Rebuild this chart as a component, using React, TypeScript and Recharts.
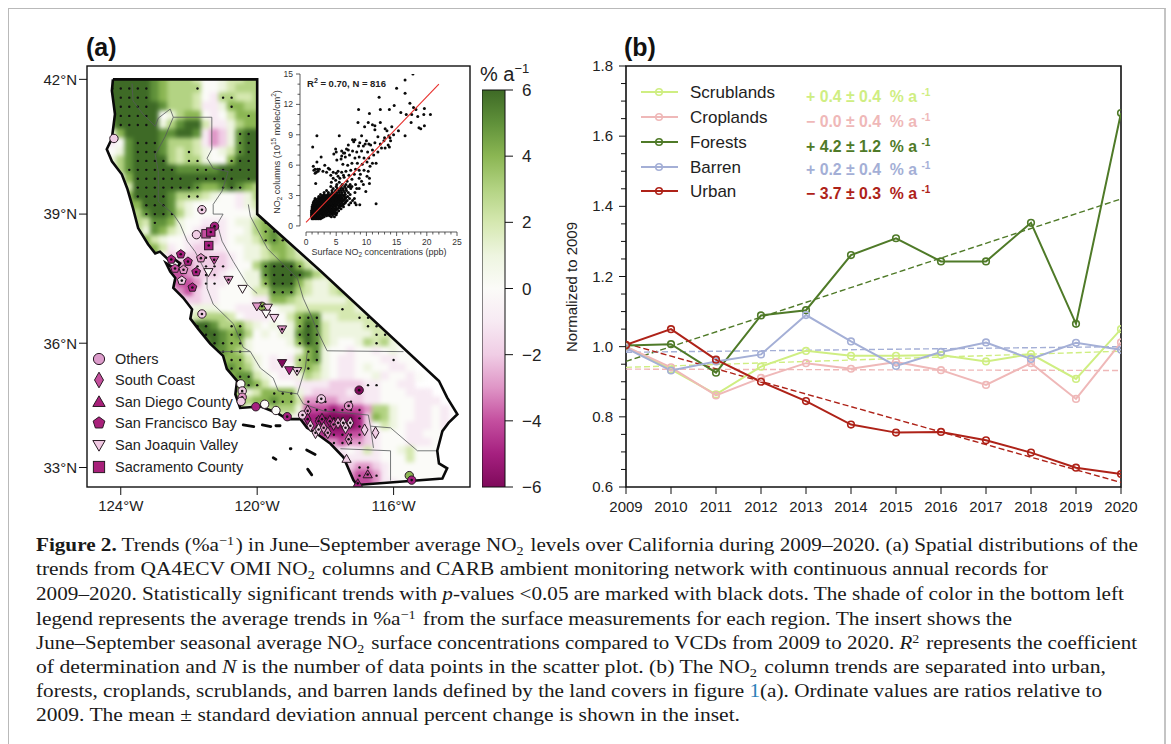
import * as React from 'react';
import {
  ComposedChart, LineChart, Line, Scatter, XAxis, YAxis, ReferenceArea, ReferenceLine
} from 'recharts';

const SANS = '"Liberation Sans", Arial, sans-serif';
const SERIF = '"Liberation Serif", serif';

// panel (b)
const years = [2009, 2010, 2011, 2012, 2013, 2014, 2015, 2016, 2017, 2018, 2019, 2020];
const scrublands = [1.0, 0.935, 0.864, 0.943, 0.988, 0.974, 0.974, 0.976, 0.958, 0.979, 0.908, 1.05];
const croplands = [1.0, 0.941, 0.861, 0.911, 0.953, 0.937, 0.956, 0.933, 0.891, 0.953, 0.851, 1.012];
const forests = [1.003, 1.007, 0.926, 1.089, 1.104, 1.261, 1.309, 1.243, 1.243, 1.353, 1.065, 1.666];
const barren = [0.996, 0.932, 0.958, 0.978, 1.09, 1.015, 0.945, 0.985, 1.012, 0.965, 1.011, 0.991];
const urban = [1.005, 1.05, 0.963, 0.9, 0.845, 0.778, 0.755, 0.757, 0.733, 0.698, 0.655, 0.637];
const scrublandsTrend = [0.941, 0.987];
const croplandsTrend = [0.936, 0.932];
const forestsTrend = [0.958, 1.421];
const barrenTrend = [0.984, 1.0];
const urbanTrend = [1.009, 0.613];
const ratioTicks = [0.6, 0.65, 0.7, 0.75, 0.8, 0.85, 0.9, 0.95, 1.0, 1.05, 1.1, 1.15, 1.2, 1.25, 1.3, 1.35, 1.4, 1.45, 1.5, 1.55, 1.6, 1.65, 1.7, 1.75, 1.8];
const landNames = ['Scrublands', 'Croplands', 'Forests', 'Barren', 'Urban'];
const landKeys = ['scrublands', 'croplands', 'forests', 'barren', 'urban'];
const landColors = ['#cfee82', '#efb8b8', '#4f7a28', '#a4afd6', '#ae2218'];
const landSigns = ['+', '\u2212', '+', '+', '\u2212'];
const landRates = ['0.4', '0.0', '4.2', '0.2', '3.7'];
const landErrors = ['0.4', '0.4', '1.2', '0.4', '0.3'];

const table = years.map((year, i) => {
  const ends = (t: number[]) => (i === 0 ? t[0] : i === years.length - 1 ? t[1] : null);
  return {
    year,
    scrublands: scrublands[i], croplands: croplands[i], forests: forests[i], barren: barren[i], urban: urban[i],
    scrublandsTrend: ends(scrublandsTrend), croplandsTrend: ends(croplandsTrend), forestsTrend: ends(forestsTrend),
    barrenTrend: ends(barrenTrend), urbanTrend: ends(urbanTrend),
  };
});

// panel (a): Mercator ordinate
const merc = (lat: number) => Math.log(Math.tan(Math.PI / 4 + (lat * Math.PI) / 360)) * 180 / Math.PI;

const lonTicks = [-124, -120, -116];
const lonLabels = ['124°W', '120°W', '116°W'];
const latTicks = [33, 36, 39, 42];
const latLabels = ['33°N', '36°N', '39°N', '42°N'];
const mapLon = [-124.99, -113.76];
const mapLat = [32.52, 42.29];

// NO2 trend levels a..m = -6..+6 %/a, one row per 0.2 deg of latitude from 42N, one char per 0.25 deg from 124.5W.
// Upper case = significant (black dot), '.' = outside the state
const heatRows = [
  '.mmmm mlkjj jiggh iijj',
  '.MMMM Mlkjj jJggh ijjj',
  '.MMMM Mlkjj jigfJ Jiij',
  '.MMMM Mmljj jiffh Kkjj',
  'kMMMM Mmghj kkgfg ikKkj',
  'klMMM Mmhjl mmiff hjkk',
  'hhkmm mmllm mlfde hLMM',
  'gfglM MMljj jifde hLMM',
  'gghlM MMlji Jihgh iLMM',
  'ghjlM MMMji JJhgg KMMM',
  'ggjLM MMMMl lLLlM MMMM',
  'gghkM MMMMM mMMMM MmMM',
  'ggjiM MMMMM MLkkL MLkj',
  'gghkM MMMlj JJihg gfhj',
  'gggkk MMMli hgggg gfhi',
  'gggjj LMMLj hgggg ggghj',
  'gggjj iLlkh ggfff ghhjK',
  'gggjj hlkih gfeef gghjK L',
  'gggij kihgg ffeef ghhiK LK',
  'gggij kkifg feeff gghhi kkj',
  'gggij kkgef eeEEe fghhi jkjih',
  'gggij kkfdd dEEEE fggjL MMMKi',
  'gggij kkecc dEEEf gghhL MMMMl ji',
  'gggij kkedc cdFFf gghhK MMMki hhij',
  'gggij kkked ceffg gggii LLLji hhijj',
  'gggij kkkkf eeffg gggff kkjih hhhhi',
  'gggij kkkki ghhhg gffff ghhii iiiIi h',
  'gggij kkkki hijjj igfff ggiKL Lhhii IIi',
  'gggij kkkkk jMMlj JKihg hghKM Lihhh hIIi',
  'gggij kkkkk jlMMl KLjgh ghhLM Lihhh hhIIi',
  'gggij kkkkk jjlML KKhgg gghKM Lihgg hjIjh g',
  'gggij kkkkk jjjlL KJhgg ggghK Lhggf ggfgh gg',
  'gggij kkkkk jjjjk KKihg fgfJK Lhgff gggfF gg',
  'gggij kkkkk jjjjk LKjhg ffgjK jhgff ghggf fg',
  'gggij kkkkk jjjjk KLLih gffhj ihgff gghfg gfg',
  'gggij kkkkk jjjjk KKLKi gggff ffeee eFFgg ff',
  'gggij kkkkk jjjjk Kjhik KKKhf eeeef effgg gfff',
  'gggij kkkkk jjjjk kkjkk LKKiD DDdeE effgg ggfff',
  'gggij kkkkk jjjjk kkghi jjjhC CCBCC Cdjjh ggffg f',
  'gggij kkkkk jjjjk kkggg ghhfB BAAAA Bekjh ggffg f',
  'gggij kkkkk jjjjk kkggg ggggB BBAAA Begih gfffg f',
  'gggij kkkkk jjjjk kkggg ggggg CBBBC Cefgg gffgg g',
  'gggij kkkkk jjjjk kkggg ggggg fDDCD Defgg gfffg g',
  'gggij kkkkk jjjjk kkggg ggggg ggefg fifgg higgg g',
  'gggij kkkkk jjjjk kkggg ggggg gggef fffgg gigg gg',
  'gggij kkkkk jjjjk kkggg ggggg gggde DDefg ggggg g',
  'gggij kkkkk jjjjk kkggg ggggg ggggd CCDfg ggggg gg',
  'gggij kkkkk jjjjk kkggg ggggg ggggc ccdff ggggg gg',
];
const levelColors = ['#7f0a5b', '#a5207f', '#c44f9f', '#df95c6', '#f0cde5', '#f7eaf3', '#fbfbf8', '#eef5e0', '#d5e8b0', '#b3d383', '#8bb653', '#60913a', '#3e6a26'];

const stateOutline = [
  [-124.23, 42], [-120, 42], [-120, 39], [-118.15, 37.7], [-114.67, 35.1], [-114.43, 34.7], [-114.13, 34.3], [-114.39, 34.09],
  [-114.57, 33.89], [-114.72, 33.41], [-114.67, 33.1], [-114.43, 32.98], [-114.57, 32.73], [-117.07, 32.57], [-117.18, 32.69],
  [-117.47, 33.25], [-117.85, 33.58], [-118.24, 33.82], [-118.54, 33.97], [-118.73, 34.18], [-119.12, 34.18], [-119.42, 34.33],
  [-119.91, 34.49], [-120.5, 34.45], [-120.64, 34.78], [-120.59, 35.1], [-120.89, 35.39], [-121, 35.7], [-121.38, 35.99],
  [-121.73, 36.34], [-121.96, 36.58], [-121.91, 36.8], [-122.17, 37.07], [-122.46, 37.3], [-122.4, 37.53], [-122.55, 37.68],
  [-122.67, 37.87], [-122.38, 37.73], [-122.26, 37.87], [-122.49, 38], [-122.61, 37.96], [-122.85, 38.14], [-122.99, 38.1],
  [-123.2, 38.31], [-123.49, 38.68], [-123.64, 39.13], [-123.81, 39.58], [-123.97, 39.9], [-124.26, 40.19], [-124.41, 40.46],
  [-124.26, 40.7], [-124.17, 41.24], [-124.26, 41.75], [-124.23, 42],
];
const basinLines = [
  [[-123.67, 41.91], [-123.64, 41.53], [-123.35, 41.24], [-122.99, 40.97], [-122.9, 41.15], [-122.55, 41.35], [-122.46, 41.17], [-122.7, 40.74], [-122.99, 40.34], [-122.9, 39.96], [-122.9, 39.29], [-122.46, 39], [-122.26, 38.77], [-122.05, 38.38], [-121.82, 38.14], [-121.47, 37.61], [-121.47, 37.29], [-121.29, 36.92], [-120.7, 36.46], [-120.41, 35.9], [-120.2, 35.8], [-119.91, 35.41], [-119.53, 35.17], [-119.38, 34.86], [-118.82, 34.79], [-118.65, 34.55], [-118.06, 34.38], [-116.74, 34.28], [-116.68, 34.01], [-116.09, 33.97], [-115.3, 33.41], [-114.71, 33.41]],
  [[-122.46, 41.17], [-121.33, 41.17], [-121.33, 40.46], [-121.47, 40.26], [-121.29, 40.03], [-120.85, 39.96], [-121.03, 39.52], [-121.29, 39.22], [-121.29, 39], [-121, 39], [-121.17, 38.77], [-121.03, 38.38], [-120.7, 37.91], [-120.29, 37.38], [-120, 37.17]],
  [[-120.26, 39.22], [-120.2, 38.95], [-119.7, 38.21], [-119.32, 37.91], [-118.82, 37.52], [-118.65, 37.06], [-118.44, 36.69], [-118.24, 36.3], [-117.95, 35.82], [-115.71, 35.8]],
  [[-121.17, 35.8], [-120.2, 35.8]],
  [[-118.53, 35.78], [-118.59, 35.41], [-118.82, 34.79]],
  [[-117.56, 33.46], [-116.09, 33.41], [-116.09, 32.68]],
  [[-116.68, 34.01], [-116.59, 33.48]],
];
const islands = [
  [[-120.41, 34.04], [-120.1, 34.0]],
  [[-119.85, 34.04], [-119.6, 34.0]],
  [[-119.45, 34.02], [-119.33, 34.02]],
  [[-119.53, 33.24], [-119.45, 33.2]],
  [[-119.03, 33.46], [-119.01, 33.46]],
  [[-118.55, 33.43], [-118.3, 33.32]],
  [[-118.52, 32.96], [-118.4, 32.82]],
];

// surface stations: lon, lat, trend %/a, significant (1)
const otherSites = [
  [-124.2, 40.7, -2, 0], [-121.62, 39.1, -2.5, 1], [-121.78, 38.53, -2.5, 0], [-121.25, 38.72, -5, 1], [-121.62, 36.69, -2, 1],
  [-120.48, 35.03, 0, 0], [-120.44, 34.86, -2, 1], [-120.44, 34.71, -3, 1], [-120.47, 34.61, -2, 0], [-120.04, 34.48, -5.5, 0],
  [-119.78, 34.54, 0, 0], [-119.45, 34.39, 0, 0], [-119.12, 34.24, -5, 1], [-118.67, 34.28, -2.5, 1], [-118.12, 34.67, -2.5, 1],
  [-117.32, 34.5, -3, 1], [-117.01, 34.88, -6, 1], [-115.54, 32.8, 4, 0], [-115.47, 32.69, -5, 1], [-119.86, 36.87, 4, 1],
];
const southCoastSites = [
  [-118.52, 34.38, -3, 1], [-118.52, 34.18, -5, 1], [-118.44, 34.02, -2, 1], [-118.29, 33.85, -2, 1], [-118.2, 34.13, -5, 1],
  [-118.1, 34.18, -5, 1], [-118.2, 33.93, -2, 1], [-118.05, 33.97, -3, 1], [-117.93, 33.85, -3, 1], [-117.87, 34.13, -5, 1],
  [-117.76, 34.05, -4, 1], [-117.63, 34.09, -3, 1], [-117.48, 34.09, -2.5, 1], [-117.41, 33.97, -2, 1], [-117.27, 34.09, -2.5, 1],
  [-117.32, 33.69, -3, 1], [-116.85, 33.92, -2, 0], [-116.53, 33.85, -2, 0],
];
const sanDiegoSites = [[-116.76, 32.83, -4.5, 1], [-117.05, 32.61, -5, 1], [-117.38, 33.21, -2, 0]];
const bayAreaSites = [
  [-122.52, 37.96, -5, 1], [-122.24, 38.08, -5, 1], [-122.03, 37.91, -5, 1], [-121.65, 37.99, -3, 1], [-122.41, 37.75, -4, 1],
  [-122.16, 37.72, -3, 1], [-121.79, 37.67, -5, 1], [-122.21, 37.47, -2, 1], [-121.9, 37.31, -5, 1],
];
const joaquinSites = [
  [-121.26, 37.95, -4.5, 1], [-121.43, 37.67, 0, 0], [-120.84, 37.49, -3, 1], [-120.43, 37.28, 0, 0], [-120.01, 36.87, -3, 0],
  [-119.69, 36.84, -2, 0], [-119.74, 36.7, 0, 0], [-119.5, 36.6, -2, 0], [-119.27, 36.33, -3, 1], [-119.27, 35.53, -6, 0],
  [-119.06, 35.36, -5, 0], [-118.83, 35.34, -2, 1],
];
const sacramentoSites = [[-121.5, 38.55, -4.5, 0], [-121.36, 38.59, -5, 1], [-121.42, 38.28, -5.5, 1]];
const regionNames = ['Others', 'South Coast', 'San Diego County', 'San Francisco Bay', 'San Joaquin Valley', 'Sacramento County'];
const regionShapes = ['circle', 'diamond', 'triangle', 'pentagon', 'inverted', 'square'];
const regionFills = ['#dc9ccb', '#c44f9c', '#a8207a', '#a8207a', '#f0c8e2', '#a8207a'];
const regionSites = [otherSites, southCoastSites, sanDiegoSites, bayAreaSites, joaquinSites, sacramentoSites];

const trendLevels = [6, 4, 2, 0, -2, -4, -6];
const trendRange = [-6, 6];

// inset scatter: surface NO2 (ppb), column NO2 (1e15 molec/cm2)
const sparsePairs = [
  [17.7, 15], [16.4, 14.4], [15, 13.6], [16.4, 13.1], [12.1, 12.7], [17.2, 12.1], [14.6, 11.9], [8.7, 11.5], [12.3, 11.5], [10.5, 11.1],
  [13.8, 11.5], [15.7, 11.2], [16.6, 11], [17.8, 11.7], [18.2, 11.5], [19.6, 11.6], [19.5, 11], [20.6, 11], [17.5, 11], [18.5, 10.8],
  [17.4, 10.2], [18.7, 9.7], [19, 9.6], [19.6, 9.9], [8.6, 10.2], [10.3, 10.2], [9.7, 9.8], [11, 10], [11.4, 9.9], [12.3, 10.2],
  [11.4, 9.5], [13.1, 9.6], [13.4, 9.4], [14.2, 9.8], [15.3, 9.4], [16.4, 8.9], [14.5, 9], [13.9, 8.7], [5.5, 8.9], [1.8, 8.9],
  [1.1, 7.8], [7.7, 8.5], [8.1, 8.5], [7.9, 8.3], [9.2, 8.9], [10, 8.4], [10.4, 8.1], [8.7, 7.9], [9.5, 7.9], [7, 8],
  [6.7, 7.6], [4.9, 7.6], [4.6, 7.1], [6.2, 7.2], [5.9, 6.9], [2.5, 6.8], [1.8, 6.3], [1.2, 5.9], [3.1, 6], [1.5, 5.6],
  [1.3, 5.5], [1.9, 5.6], [2, 5.4], [1.7, 5.3], [1.5, 5.2], [1.6, 4.2], [3.4, 5.3], [3.9, 5.6], [3.7, 5.7], [2.2, 5.6],
  [2.8, 5.4], [4.1, 5], [4.5, 5.3], [5, 5.2], [5.3, 5.4], [4.5, 4.7], [4.9, 4.5], [5.6, 4.7], [5.3, 4.9], [6.2, 5],
  [4.2, 4.3], [5.1, 4.1], [5.5, 4.3], [6.8, 4.4], [7.6, 4.6], [8.8, 4.7], [9.2, 4.4], [6.3, 4.8], [7.1, 5], [8, 5.1],
  [9, 5.1], [10.1, 4.9], [10.5, 4.7], [5.9, 5.3], [6.6, 5.4], [7.4, 5.5], [8.2, 5.6], [8.8, 5.5], [9.6, 5.5], [10.3, 5.4],
  [6.1, 6.1], [6.9, 6], [7.6, 6.2], [8.5, 6.2], [9.3, 6.1], [10.1, 6.3], [11, 6.2], [11.6, 6.2], [5.1, 6.5], [5.8, 6.6],
  [6.5, 6.8], [7.2, 7], [8.1, 6.7], [8.8, 6.8], [9.6, 6.7], [10.4, 6.7], [11.2, 7], [5, 7.3], [5.9, 7.4], [6.4, 7.2],
  [7, 7.5], [7.7, 7.4], [8.4, 7.3], [9.2, 7.4], [10.2, 7.3], [11, 7.5], [11.9, 7.3], [12.5, 7.7], [13.1, 7.7], [13.8, 7.8],
  [12.3, 8.1], [12.9, 8.4], [13.6, 8], [14, 8.4], [8.9, 8.2], [9.8, 8.1], [10.7, 8], [11.4, 8.2], [11.9, 8.8], [13, 8.7],
  [13.7, 8.9], [10.6, 5.9], [9.9, 3.4], [10.5, 4.2], [8.9, 2.1], [11.6, 2.2], [7.2, 3.9], [8.8, 3.7], [9.5, 4.1],
];
// dense cluster, one row per column value: [y, x, x, x ...]
const clusterRows = [
  [0.7, 1.0, 1.2, 1.5, 1.8, 2.1, 2.4],
  [0.8, 1.1, 1.3, 1.6, 1.9, 2.3, 2.7],
  [0.9, 0.9, 1.1, 1.4, 1.7, 2.0, 2.4, 3.0, 4.2, 4.7],
  [1.0, 1.0, 1.3, 1.6, 1.9, 2.2, 2.8, 3.4, 3.9],
  [1.1, 0.9, 1.2, 1.5, 1.8, 2.1, 2.6, 3.2, 3.7, 4.4, 5.0],
  [1.2, 1.0, 1.3, 1.6, 1.9, 2.4, 2.9, 3.4, 3.9, 4.2, 4.8],
  [1.3, 0.9, 1.1, 1.4, 1.7, 2.0, 2.3, 2.7, 3.1, 3.5, 4.0, 4.5, 5.1],
  [1.4, 1.0, 1.3, 1.6, 1.9, 2.2, 2.5, 2.9, 3.3, 3.8, 4.3, 4.8],
  [1.5, 0.9, 1.2, 1.5, 1.8, 2.1, 2.5, 2.9, 3.3, 3.7, 4.1, 4.6, 5.4],
  [1.6, 1.1, 1.4, 1.7, 2.0, 2.3, 2.7, 3.1, 3.5, 3.9, 4.4, 5.0],
  [1.7, 1.0, 1.3, 1.6, 1.9, 2.2, 2.6, 3.0, 3.4, 3.8, 4.2, 4.7, 5.2, 5.8],
  [1.8, 1.1, 1.4, 1.7, 2.0, 2.4, 2.8, 3.2, 3.6, 4.0, 4.5, 5.0, 5.5],
  [1.9, 1.0, 1.2, 1.5, 1.8, 2.1, 2.4, 2.8, 3.2, 3.6, 4.0, 4.4, 4.9, 5.5, 6.2],
  [2.0, 1.2, 1.6, 1.9, 2.2, 2.6, 3.0, 3.4, 3.8, 4.2, 4.6, 5.0, 5.4, 5.8],
  [2.1, 1.1, 1.4, 1.7, 2.0, 2.3, 2.7, 3.1, 3.5, 3.9, 4.3, 4.7, 5.1, 5.6, 6.1, 7.1, 8.3],
  [2.2, 1.3, 1.6, 1.9, 2.4, 2.8, 3.2, 3.6, 4.0, 4.4, 4.8, 5.2, 5.7, 6.3],
  [2.3, 1.2, 1.5, 1.8, 2.2, 2.6, 3.0, 3.4, 3.8, 4.2, 4.6, 5.0, 5.4, 5.9, 6.5, 7.4, 8.1],
  [2.4, 1.3, 1.9, 2.3, 2.7, 3.1, 3.5, 3.9, 4.3, 4.7, 5.1, 5.5, 6.0, 6.6],
  [2.5, 1.4, 1.7, 2.1, 2.5, 2.9, 3.3, 3.7, 4.1, 4.5, 4.9, 5.3, 5.7, 6.2, 6.8, 7.7],
  [2.6, 1.6, 2.2, 2.6, 3.0, 3.4, 3.8, 4.2, 4.6, 5.0, 5.4, 5.8, 6.3],
  [2.7, 1.5, 2.0, 2.4, 2.8, 3.2, 3.6, 4.0, 4.4, 4.8, 5.2, 5.6, 6.0, 6.5, 7.2, 8.0],
  [2.8, 2.3, 2.7, 3.1, 3.5, 3.9, 4.3, 4.7, 5.1, 5.5, 5.9, 6.6],
  [2.9, 2.1, 2.6, 3.0, 3.4, 3.8, 4.2, 4.6, 5.0, 5.4, 5.8, 6.3, 6.9],
  [3.0, 2.8, 3.3, 3.7, 4.1, 4.5, 4.9, 5.3, 5.7, 6.2],
  [3.1, 2.4, 3.0, 3.6, 4.0, 4.4, 4.8, 5.2, 5.6, 6.0, 6.5, 7.3],
  [3.3, 3.0, 3.7, 4.3, 4.7, 5.1, 5.5, 5.9, 6.4, 7.0, 8.1],
  [3.5, 3.4, 4.3, 4.9, 5.4, 5.8, 6.2, 6.7],
  [3.7, 4.5, 5.2, 5.7, 6.1, 6.6, 7.4, 8.4],
  [3.9, 4.1, 5.0, 5.8, 6.4, 7.0, 7.6],
  [4.1, 6.0, 6.6, 7.3, 8.2],
];
const fitLine = [[0, 0.35], [22, 14]];
const surfaceTicks = [0, 1, 2, 3, 4, 5, 6, 7, 8, 9, 10, 11, 12, 13, 14, 15, 16, 17, 18, 19, 20, 21, 22, 23, 24, 25];
const columnTicks = [0, 1, 2, 3, 4, 5, 6, 7, 8, 9, 10, 11, 12, 13, 14, 15];

// keeps the dots of a cell on land
function insideState(lon: number, lat: number) {
  let inside = false;
  for (let i = 0, j = stateOutline.length - 1; i < stateOutline.length; j = i++) {
    const [xi, yi] = stateOutline[i];
    const [xj, yj] = stateOutline[j];
    if ((yi > lat) !== (yj > lat) && lon < ((xj - xi) * (lat - yi)) / (yj - yi) + xi) inside = !inside;
  }
  return inside;
}

const cells = heatRows.flatMap((row, i) =>
  [...row.replace(/ /g, '')].flatMap((c, j) =>
    c === '.' ? [] : [{
      lon: -124.5 + 0.25 * j,
      lat: 42 - 0.2 * i,
      my: merc(42 - 0.2 * i),
      level: c.toLowerCase().charCodeAt(0) - 97,
      sig: c === c.toUpperCase(),
    }]));
const sigCells = cells.filter((c) => c.sig && insideState(c.lon, c.lat));
const toLonLat = (pts: number[][]) => pts.map((p) => ({ lon: p[0], my: merc(p[1]) }));
const scatterPoints = [
  ...sparsePairs.map((p) => ({ s: p[0], c: p[1] })),
  ...clusterRows.flatMap((r) => r.slice(1).map((x) => ({ s: x, c: r[0] }))),
];

const trendColor = (t: number) => levelColors[Math.max(0, Math.min(12, Math.round(t + 6)))];

function markerPath(kind: string, cx: number, cy: number, r: number, fill: string, dot: boolean) {
  const stroke = '#2a1a24';
  let body: any;
  if (kind === 'circle') body = <circle cx={cx} cy={cy} r={r} fill={fill} stroke={stroke} />;
  if (kind === 'square') body = <rect x={cx - r} y={cy - r} width={2 * r} height={2 * r} fill={fill} stroke={stroke} />;
  if (kind === 'diamond') body = <polygon points={`${cx},${cy - r * 1.4} ${cx + r * 0.8},${cy} ${cx},${cy + r * 1.4} ${cx - r * 0.8},${cy}`} fill={fill} stroke={stroke} />;
  if (kind === 'triangle') body = <polygon points={`${cx},${cy - r * 1.1} ${cx + r * 1.1},${cy + r * 0.8} ${cx - r * 1.1},${cy + r * 0.8}`} fill={fill} stroke={stroke} />;
  if (kind === 'inverted') body = <polygon points={`${cx},${cy + r * 1.1} ${cx + r * 1.1},${cy - r * 0.8} ${cx - r * 1.1},${cy - r * 0.8}`} fill={fill} stroke={stroke} />;
  if (kind === 'pentagon') {
    const pts = [0, 1, 2, 3, 4].map((k) => {
      const a = -Math.PI / 2 + (k * 2 * Math.PI) / 5;
      return `${cx + r * 1.1 * Math.cos(a)},${cy + r * 1.1 * Math.sin(a)}`;
    });
    body = <polygon points={pts.join(' ')} fill={fill} stroke={stroke} />;
  }
  return (
    <g>
      {body}
      {dot && <circle cx={cx} cy={cy} r={1.3} fill="#111" />}
    </g>
  );
}

function MapFrame(props: any) {
  const { x, y, width, height } = props;
  const px = (lon: number) => x + ((lon - mapLon[0]) / (mapLon[1] - mapLon[0])) * width;
  const py = (lat: number) => y + height - ((merc(lat) - merc(mapLat[0])) / (merc(mapLat[1]) - merc(mapLat[0]))) * height;
  const d = stateOutline.map((p) => `${px(p[0])},${py(p[1])}`).join(' ');
  return (
    <g>
      <clipPath id="caClip"><polygon points={d} /></clipPath>
      <rect x={x} y={y} width={width} height={height} fill="none" stroke="#111" strokeWidth={1.4} />
    </g>
  );
}

function RatioTick(props: any) {
  const { x, y, payload } = props;
  const major = Math.abs(payload.value * 5 - Math.round(payload.value * 5)) < 1e-6;
  return (
    <g>
      <line x1={x - (major ? 7 : 5)} x2={x} y1={y} y2={y} stroke="#111" />
      {major && <text x={x - 13} y={y + 5} textAnchor="end" fontSize={15} fill="#222">{payload.value.toFixed(1)}</text>}
    </g>
  );
}

function YearTick(props: any) {
  const { x, y, payload } = props;
  return (
    <g>
      <line x1={x} x2={x} y1={y} y2={y + 7} stroke="#111" />
      <text x={x} y={y + 25} textAnchor="middle" fontSize={15} fill="#222">{payload.value}</text>
    </g>
  );
}

function SurfaceTick(props: any) {
  const { x, y, payload } = props;
  const major = payload.value % 5 === 0;
  return (
    <g>
      <line x1={x} x2={x} y1={y} y2={y + (major ? 4 : 2.5)} stroke="#333" strokeWidth={0.8} />
      {major && <text x={x} y={y + 13} textAnchor="middle" fontSize={8.5} fill="#333">{payload.value}</text>}
    </g>
  );
}

function ColumnTick(props: any) {
  const { x, y, payload } = props;
  const major = payload.value % 3 === 0;
  return (
    <g>
      <line x1={x - (major ? 4 : 2.5)} x2={x} y1={y} y2={y} stroke="#333" strokeWidth={0.8} />
      {major && <text x={x - 7} y={y + 3} textAnchor="end" fontSize={8.5} fill="#333">{payload.value}</text>}
    </g>
  );
}

function Txt(props: any) {
  const { x, y, size, color, weight, children, rotate, center } = props;
  const shift = center ? 'translate(-50%,-50%)' : 'translateY(-50%)';
  return (
    <div style={{
      position: 'absolute', left: x, top: y, fontSize: size, color: color || '#222', fontWeight: weight || 'normal',
      whiteSpace: 'nowrap', lineHeight: 1, transform: shift + (rotate ? ` rotate(${rotate}deg)` : ''),
    }}>{children}</div>
  );
}

const capSub = (s: string) => <><tspan dy={4} fontSize={13}>{s}</tspan><tspan dy={-4}>{'\u200a'}</tspan></>;
const capSup = (s: string) => <><tspan dy={-6} fontSize={13}>{s}</tspan><tspan dy={6}>{'\u200a'}</tspan></>;

function Caption() {
  const lines: Array<[number, number, any]> = [
    [551, 1102, <>
      <tspan fontWeight="bold">Figure 2.</tspan> Trends (%a{capSup('\u22121')}) in June–September average NO{capSub('2')} levels over California during 2009–2020. (a) Spatial distributions of the
    </>],
    [575, 1012, <>trends from QA4ECV OMI NO{capSub('2')} columns and CARB ambient monitoring network with continuous annual records for</>],
    [600, 1088, <>2009–2020. Statistically significant trends with <tspan fontStyle="italic">p</tspan>-values {'<'}0.05 are marked with black dots. The shade of color in the bottom left</>],
    [625, 976, <>legend represents the average trends in %a{capSup('\u22121')} from the surface measurements for each region. The insert shows the</>],
    [649, 1101, <>June–September seasonal average NO{capSub('2')} surface concentrations compared to VCDs from 2009 to 2020. <tspan fontStyle="italic">R</tspan>{capSup('2')} represents the coefficient</>],
    [673, 1070, <>of determination and <tspan fontStyle="italic">N</tspan> is the number of data points in the scatter plot. (b) The NO{capSub('2')} column trends are separated into urban,</>],
    [697, 1066, <>forests, croplands, scrublands, and barren lands defined by the land covers in figure <tspan fill="#2b7fb8">1</tspan>(a). Ordinate values are ratios relative to</>],
    [721, 704, <>2009. The mean ± standard deviation annual percent change is shown in the inset.</>],
  ];
  return (
    <svg width={1171} height={744} style={{ position: 'absolute', left: 0, top: 0, pointerEvents: 'none' }}>
      {lines.map((l, i) => (
        <text key={i} x={36} y={l[0]} textLength={l[1]} lengthAdjust="spacingAndGlyphs" fontFamily={SERIF} fontSize={19.5} fill="#1a1a1a">{l[2]}</text>
      ))}
    </svg>
  );
}

function MapPanel() {
  return (
    <div style={{ position: 'absolute', left: 40, top: 50 }}>
      <style>{'.map-cells{clip-path:url(#caClip);filter:blur(2px)}'}</style>
      <ComposedChart width={440} height={480} margin={{ top: 16, right: 10, left: 0, bottom: 0 }}>
        <XAxis type="number" dataKey="lon" domain={mapLon} ticks={lonTicks} allowDataOverflow axisLine={false} interval={0}
          tickSize={8} tickMargin={5} stroke="#111" height={43}
          tick={{ fontSize: 15, fill: '#222' }} tickFormatter={(_: any, i: number) => lonLabels[i]} />
        <YAxis type="number" dataKey="my" domain={[merc(mapLat[0]), merc(mapLat[1])]} ticks={latTicks.map(merc)} allowDataOverflow
          axisLine={false} interval={0} tickSize={8} tickMargin={2} stroke="#111" width={47}
          tick={{ fontSize: 15, fill: '#222' }} tickFormatter={(_: any, i: number) => latLabels[i]} />
        <ReferenceArea x1={mapLon[0]} x2={mapLon[1]} y1={merc(mapLat[0])} y2={merc(mapLat[1])} ifOverflow="visible" shape={MapFrame} />
        <Scatter data={cells} className="map-cells" isAnimationActive={false}
          shape={(p: any) => <rect x={p.cx - 4.8} y={p.cy - 5.2} width={9.6} height={10.4} fill={levelColors[p.payload.level]} />} />
        <Scatter data={sigCells} isAnimationActive={false}
          shape={(p: any) => <circle cx={p.cx} cy={p.cy} r={1.2} fill="#111" />} />
        {basinLines.map((b, i) => (
          <Scatter key={i} data={toLonLat(b)} line={{ stroke: '#55595a', strokeWidth: 0.8 }} isAnimationActive={false} shape={() => <g />} />
        ))}
        <Scatter data={toLonLat(stateOutline)} line={{ stroke: '#0a0a0a', strokeWidth: 2.6 }} isAnimationActive={false} shape={() => <g />} />
        {islands.map((b, i) => (
          <Scatter key={i} data={toLonLat(b)} line={{ stroke: '#0a0a0a', strokeWidth: 2.8, strokeLinecap: 'round' }} isAnimationActive={false} shape={() => <g />} />
        ))}
        {regionSites.map((sites, i) => (
          <Scatter key={i} data={sites.map((s) => ({ lon: s[0], my: merc(s[1]), t: s[2], sig: s[3] }))} isAnimationActive={false}
            shape={(p: any) => markerPath(regionShapes[i], p.cx, p.cy, 4.2, trendColor(p.payload.t), !!p.payload.sig)} />
        ))}
      </ComposedChart>
    </div>
  );
}

function InsetPanel() {
  return (
    <div style={{ position: 'absolute', left: 270, top: 66 }}>
      <ComposedChart width={200} height={195} margin={{ top: 8, right: 13, left: 0, bottom: 0 }}>
        <XAxis type="number" dataKey="s" domain={[-1, 25]} ticks={surfaceTicks} allowDataOverflow interval={0} axisLine={false}
          tickLine={false} tickSize={0} tickMargin={0} height={29} tick={<SurfaceTick />} />
        <YAxis type="number" dataKey="c" domain={[-0.6, 15]} ticks={columnTicks} allowDataOverflow interval={0} axisLine={false}
          tickLine={false} tickSize={0} tickMargin={0} width={30} tick={<ColumnTick />} />
        <ReferenceLine segment={[{ x: 0, y: -0.6 }, { x: 25, y: -0.6 }]} stroke="#333" strokeWidth={0.8} ifOverflow="visible" />
        <ReferenceLine segment={[{ x: -1, y: 0 }, { x: -1, y: 15 }]} stroke="#333" strokeWidth={0.8} ifOverflow="visible" />
        <Scatter data={scatterPoints} isAnimationActive={false} shape={(p: any) => <circle cx={p.cx} cy={p.cy} r={1.5} fill="#0a0a0a" />} />
        <Scatter data={fitLine.map((p) => ({ s: p[0], c: p[1] }))} line={{ stroke: '#e8302c', strokeWidth: 1.1 }} isAnimationActive={false} shape={() => <g />} />
      </ComposedChart>
    </div>
  );
}

function ColorBar() {
  return (
    <div style={{ position: 'absolute', left: 482, top: 80 }}>
      <ComposedChart width={62} height={417} margin={{ top: 10, right: 0, left: 0, bottom: 10 }}>
        <defs>
          <linearGradient id="trendRamp" x1="0" y1="0" x2="0" y2="1">
            {levelColors.slice().reverse().map((c, i) => <stop key={i} offset={i / 12} stopColor={c} />)}
          </linearGradient>
        </defs>
        <XAxis type="number" dataKey="u" hide domain={[0, 1]} allowDataOverflow />
        <YAxis type="number" dataKey="v" orientation="right" domain={trendRange} ticks={trendLevels} allowDataOverflow interval={0} width={39}
          axisLine={false} tickSize={8} tickMargin={9} stroke="#111" tick={{ fontSize: 17, fill: '#222' }}
          tickFormatter={(v: number) => (v < 0 ? `\u2212${-v}` : `${v}`)} />
        <Scatter data={[{ u: 0, v: trendRange[0] }, { u: 1, v: trendRange[1] }]} isAnimationActive={false} shape={() => <g />} />
        <ReferenceArea x1={0} x2={1} y1={trendRange[0]} y2={trendRange[1]} fill="url(#trendRamp)" fillOpacity={1} stroke="#111" strokeWidth={1} ifOverflow="visible" />
      </ComposedChart>
    </div>
  );
}

function TrendPanel() {
  return (
    <div style={{ position: 'absolute', left: 560, top: 50 }}>
      <LineChart width={600} height={480} data={table} margin={{ top: 16, right: 39, left: 0, bottom: 0 }}>
        <XAxis type="number" dataKey="year" domain={[2009, 2020]} ticks={years} allowDataOverflow interval={0} axisLine={false}
          tickLine={false} tickSize={0} tickMargin={0} height={43} tick={<YearTick />} />
        <YAxis type="number" domain={[0.6, 1.8]} ticks={ratioTicks} allowDataOverflow interval={0} axisLine={false}
          tickLine={false} tickSize={0} tickMargin={0} width={66} tick={<RatioTick />} />
        <ReferenceArea x1={2009} x2={2020} y1={0.6} y2={1.8} fill="none" stroke="#111" strokeWidth={1.6} ifOverflow="visible" />
        {landKeys.map((k, i) => (
          <Line key={k + 'T'} dataKey={k + 'Trend'} stroke={landColors[i]} strokeWidth={1.4} strokeDasharray="6 3" dot={false} connectNulls isAnimationActive={false} />
        ))}
        {landKeys.map((k, i) => (
          <Line key={k} dataKey={k} stroke={landColors[i]} strokeWidth={2} isAnimationActive={false}
            dot={{ r: 3.3, fill: 'none', stroke: landColors[i], strokeWidth: 1.6 }} />
        ))}
      </LineChart>
    </div>
  );
}

export default function App() {
  const rowsY = [92, 117, 142, 167, 191];
  const rateY = [97, 122, 147, 170, 194];
  const legendY = [359, 380, 402, 423, 445, 467];
  return (
    <div style={{ position: 'absolute', left: 0, top: 0, width: 1171, height: 744, overflow: 'hidden', background: '#fff', fontFamily: SANS }}>
      <div style={{ position: 'absolute', left: 8, top: 8, width: 1155, height: 760, borderLeft: '1px solid #b9b9b9', borderTop: '1px solid #b9b9b9', borderRight: '2px solid #c4c4c4' }} />
      <MapPanel />
      <InsetPanel />
      <ColorBar />
      <TrendPanel />

      <Txt x={86} y={47} size={25} weight="bold" color="#111">(a)</Txt>
      <Txt x={624} y={47} size={25} weight="bold" color="#111">(b)</Txt>
      <Txt x={480} y={74} size={20}>% a<sup style={{ fontSize: 13, lineHeight: 0 }}>−1</sup></Txt>
      <Txt x={307} y={84} size={9.5} weight="bold">R<sup style={{ fontSize: 7, lineHeight: 0 }}>2</sup> = 0.70, N = 816</Txt>
      <Txt x={277} y={152} size={9} color="#333" rotate={-90} center>NO<sub style={{ fontSize: 6.5, lineHeight: 0 }}>2</sub> columns (10<sup style={{ fontSize: 6.5, lineHeight: 0 }}>15</sup> molec/cm<sup style={{ fontSize: 6.5, lineHeight: 0 }}>2</sup>)</Txt>
      <Txt x={379} y={252} size={9} color="#333" center>Surface NO<sub style={{ fontSize: 6.5, lineHeight: 0 }}>2</sub> concentrations (ppb)</Txt>
      <Txt x={571} y={287} size={15} rotate={-90} center>Normalized to 2009</Txt>

      {regionNames.map((n, i) => (
        <React.Fragment key={n}>
          <svg width={20} height={20} style={{ position: 'absolute', left: 89, top: legendY[i] - 10 }}>
            {markerPath(regionShapes[i], 10, 10, 5.6, regionFills[i], false)}
          </svg>
          <Txt x={115} y={legendY[i]} size={14.5}>{n}</Txt>
        </React.Fragment>
      ))}

      {landNames.map((n, i) => (
        <React.Fragment key={n}>
          <svg width={40} height={12} style={{ position: 'absolute', left: 640, top: rowsY[i] - 6 }}>
            <line x1={1} x2={38} y1={6} y2={6} stroke={landColors[i]} strokeWidth={2} />
            <circle cx={19} cy={6} r={3.3} fill="none" stroke={landColors[i]} strokeWidth={1.6} />
          </svg>
          <Txt x={690} y={rowsY[i]} size={17}>{n}</Txt>
          <Txt x={806} y={rateY[i]} size={15.8} weight="bold" color={landColors[i]}>
            {landSigns[i]} {landRates[i]} ± {landErrors[i]}&nbsp; % a <sup style={{ fontSize: 10, lineHeight: 0 }}>-1</sup>
          </Txt>
        </React.Fragment>
      ))}
      <Caption />
    </div>
  );
}
